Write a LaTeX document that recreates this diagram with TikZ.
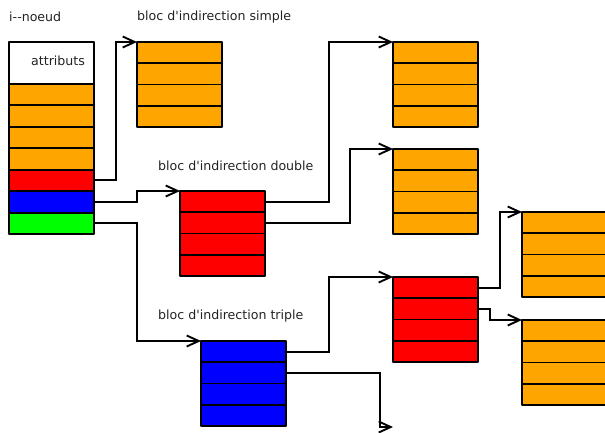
\documentclass[tikz,border=0pt]{standalone}
\usepackage{fontspec}
\newfontfamily\dv{DejaVu Sans}
\usetikzlibrary{arrows.meta}
\definecolor{corange}{HTML}{FFA500}
\definecolor{cred}{HTML}{FF0000}
\definecolor{cblue}{HTML}{0000FF}
\definecolor{cgreen}{HTML}{00FF00}
\definecolor{ctext}{HTML}{222222}
\newcommand{\blockrows}[4]{%
  \foreach \k in {1,...,4} {
    \node[cell, fill=#4] (#1-\k) at (#2, {#3 + (\k-1)*21.25}) {};
  }
  \foreach \k in {1,...,4} {
    \draw[edge] (#1-\k.north west) rectangle (#1-\k.south east);
  }}
\begin{document}
\begin{tikzpicture}[x=1pt,y=-1pt,
  cell/.style={minimum width=85pt, minimum height=21.25pt,
    inner sep=0pt, outer sep=0pt, anchor=north west},
  edge/.style={draw=black, line width=1.9pt, line join=round},
  conn/.style={line width=1.9pt, -{Straight Barb[length=12pt,width=11pt,line width=1.9pt]}},
  lbl/.style={font=\dv\fontsize{12.6}{14}\selectfont, text=ctext, inner sep=0pt, anchor=west}]
\useasboundingbox (0,0) rectangle (605,433);

% i-noeud
\node[cell, fill=white, minimum height=42pt] (attr) at (9,42) {};
\foreach \k/\c in {1/corange,2/corange,3/corange,4/corange,5/cred,6/cblue,7/cgreen} {
  \node[cell, fill=\c, minimum height=21.43pt] (i\k) at (9, {84 + (\k-1)*21.43}) {};
}
\draw[edge] (attr.north west) rectangle (attr.south east);
\foreach \k in {1,...,7} {
  \draw[edge] (i\k.north west) rectangle (i\k.south east);
}
\node[lbl] (attrlbl) at (31,61) {attributs};

% blocks
\blockrows{s}{137}{42}{corange}
\blockrows{d}{180}{191}{cred}
\blockrows{dA}{393}{42}{corange}
\blockrows{dB}{393}{149}{corange}
\blockrows{t}{201}{341}{cblue}
\blockrows{tA}{393}{277}{cred}
\blockrows{tAA}{522}{212}{corange}
\blockrows{tAB}{522}{320}{corange}

% labels
\node[lbl] (linode) at (9,17) {i-{}-noeud};
\node[lbl] (lsimple) at (137,17) {bloc d'indirection simple};
\node[lbl] (ldouble) at (158,166) {bloc d'indirection double};
\node[lbl] (ltriple) at (158,316) {bloc d'indirection triple};

\coordinate (tend) at (393,427);

% connectors
\draw[conn] (i5.east) -- ++(22,0) |- (s-1.north west);
\draw[conn] (i6.east) -- ++(43,0) |- (d-1.north west);
\draw[conn] (i7.east) -- ++(43,0) |- (t-1.north west);
\draw[conn] (d-1.east) -- ++(64,0) |- (dA-1.north west);
\draw[conn] (d-2.east) -- ++(85,0) |- (dB-1.north west);
\draw[conn] (t-1.east) -- ++(43,0) |- (tA-1.north west);
\draw[conn] (t-2.east) -- ++(94,0) |- (tend);
\draw[conn] (tA-1.east) -- ++(22,0) |- (tAA-1.north west);
\draw[conn] (tA-2.east) -- ++(12,0) |- (tAB-1.north west);
\end{tikzpicture}
\end{document}
